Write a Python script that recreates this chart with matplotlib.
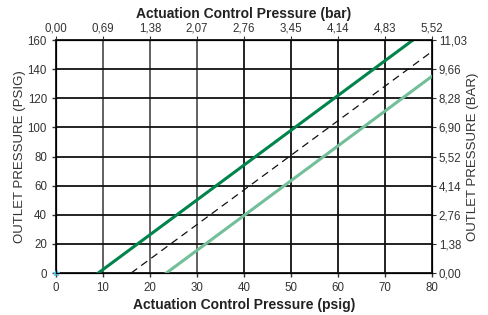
import matplotlib
matplotlib.use("Agg")
import matplotlib.pyplot as plt
import numpy as np

# data
psig_ticks = [0, 10, 20, 30, 40, 50, 60, 70, 80]
bar_top_labels = ["0,00", "0,69", "1,38", "2,07", "2,76", "3,45", "4,14", "4,83", "5,52"]
outlet_ticks = [0, 20, 40, 60, 80, 100, 120, 140, 160]
bar_right_labels = ["0,00", "1,38", "2,76", "4,14", "5,52", "6,90", "8,28", "9,66", "11,03"]

upper_x = [9, 76]
upper_y = [0, 160]
mid_x = [16, 80]
mid_y = [0, 152]
lower_x = [23.5, 80]
lower_y = [0, 135]

plt.rcParams["font.family"] = ["Liberation Sans Narrow", "Liberation Sans", "DejaVu Sans"]

fig = plt.figure(figsize=(4.89, 3.15), dpi=100)
ax = fig.add_axes([0.1145, 0.1333, 0.7685, 0.7397])

for v in psig_ticks[1:-1]:
    c = "#555555" if v < 40 else "#111111"
    ax.axvline(v, color=c, lw=1.3, zorder=1)
for v in outlet_ticks[1:-1]:
    ax.axhline(v, color="#111111", lw=1.3, zorder=1)

ax.plot(upper_x, upper_y, color="#00844a", lw=2.2, zorder=3)
ax.plot(mid_x, mid_y, color="#111111", lw=0.9, ls=(0, (6, 4)), zorder=3)
ax.plot(lower_x, lower_y, color="#72bf9a", lw=2.2, zorder=3)
ax.plot([0], [0], marker="*", color="#5bc8e6", ms=4, zorder=4, clip_on=False)

ax.set_xlim(0, 80)
ax.set_ylim(0, 160)
ax.set_xticks(psig_ticks)
ax.set_yticks(outlet_ticks)
ax.tick_params(labelsize=8.3, length=3, width=1, colors="#333333", labelcolor="#333333")
for s in ax.spines.values():
    s.set_linewidth(1.3)
    s.set_color("#111111")

ax.set_xlabel("Actuation Control Pressure (psig)", fontsize=10, fontweight="bold", color="#222222", labelpad=3)
ax.set_ylabel("OUTLET PRESSURE (PSIG)", fontsize=9.5, color="#333333")
ax.yaxis.set_label_coords(-0.08, 0.5)

top = ax.twiny()
top.set_xlim(0, 80)
top.set_xticks(psig_ticks)
top.set_xticklabels(bar_top_labels)
top.tick_params(labelsize=8.3, length=3, colors="#333333", labelcolor="#333333", pad=1)
top.set_xlabel("Actuation Control Pressure (bar)", fontsize=10, fontweight="bold", color="#222222", labelpad=3)

right = ax.twinx()
right.set_ylim(0, 160)
right.set_yticks(outlet_ticks)
right.set_yticklabels(bar_right_labels)
right.tick_params(labelsize=8.3, length=3, colors="#333333", labelcolor="#333333", pad=2)
right.set_ylabel("OUTLET PRESSURE (BAR)", fontsize=9.5, color="#333333")
right.yaxis.set_label_coords(1.095, 0.5)

fig.savefig("out.png", dpi=100)
